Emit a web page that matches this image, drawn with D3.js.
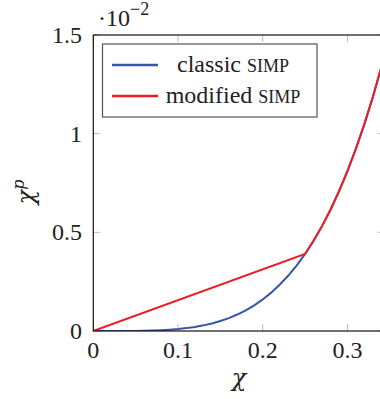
<!DOCTYPE html>
<html><head><meta charset="utf-8">
<script src="https://cdn.jsdelivr.net/npm/d3@7"></script>
<style>body{margin:0;background:#fff}svg{display:block}text{font-family:"Liberation Serif","DejaVu Serif",serif;fill:#222}</style>
</head><body><svg id="c" width="380" height="399"></svg>
<script>
// data (values in units of 10^-2)
const chi = [0,0.01,0.02,0.03,0.04,0.05,0.06,0.07,0.08,0.09,0.10,0.11,0.12,0.13,0.14,0.15,0.16,0.17,0.18,0.19,0.20,0.21,0.22,0.23,0.24,0.25,0.26,0.27,0.28,0.29,0.30,0.31,0.32,0.33,0.34,0.35];
const classicSIMP = [0,0.000001,0.000016,0.000081,0.000256,0.000625,0.0013,0.0024,0.0041,0.0066,0.01,0.0146,0.0207,0.0286,0.0384,0.0506,0.0655,0.0835,0.105,0.1303,0.16,0.1945,0.2343,0.2798,0.3318,0.3906,0.457,0.5314,0.6147,0.7073,0.81,0.9235,1.0486,1.1859,1.3363,1.5006];
const modChi = [0,0.25,0.26,0.27,0.28,0.29,0.30,0.31,0.32,0.33,0.34,0.35];
const modifiedSIMP = [0,0.3906,0.457,0.5314,0.6147,0.7073,0.81,0.9235,1.0486,1.1859,1.3363,1.5006];
const xTicks = [0,0.1,0.2,0.3];
const yTicks = [0,0.5,1,1.5];
const seriesNames = ["classic", "modified"];

const svg = d3.select("#c");
const L = 93.3, R = 384.7, T = 35, B = 331;
const x = d3.scaleLinear().domain([0,0.344]).range([L,R]);
const y = d3.scaleLinear().domain([0,1.5]).range([B,T]);

// ticks inside (gray)
const tg = svg.append("g").attr("stroke","#bbb").attr("stroke-width",1);
xTicks.forEach(t=>{
  tg.append("line").attr("x1",x(t)).attr("x2",x(t)).attr("y1",B).attr("y2",B-7);
  tg.append("line").attr("x1",x(t)).attr("x2",x(t)).attr("y1",T).attr("y2",T+7);
});
yTicks.forEach(t=>{
  tg.append("line").attr("x1",L).attr("x2",L+7).attr("y1",y(t)).attr("y2",y(t));
  tg.append("line").attr("x1",R).attr("x2",R-7).attr("y1",y(t)).attr("y2",y(t));
});

svg.append("clipPath").attr("id","clip").append("rect").attr("x",L).attr("y",T).attr("width",R-L).attr("height",B-T);
const line = d3.line().x(d=>x(d[0])).y(d=>y(d[1]));
const gL = svg.append("g").attr("clip-path","url(#clip)");
gL.append("path").datum(chi.map((c,i)=>[c,classicSIMP[i]])).attr("d",line)
  .attr("fill","none").attr("stroke","#3a55a8").attr("stroke-width",2);
gL.append("path").datum(modChi.map((c,i)=>[c,modifiedSIMP[i]])).attr("d",line)
  .attr("fill","none").attr("stroke","#ec1c24").attr("stroke-width",2);

// frame
svg.append("rect").attr("x",L).attr("y",T).attr("width",R-L).attr("height",B-T)
  .attr("fill","none").attr("stroke","#111").attr("stroke-width",1.2);

// tick labels
const fmt = d=> d===0? "0" : String(d);
xTicks.forEach(t=>svg.append("text").attr("x",x(t)).attr("y",358).attr("text-anchor","middle")
  .attr("font-size",24).text(fmt(t)));
yTicks.forEach(t=>svg.append("text").attr("x",82).attr("y",y(t)+8).attr("text-anchor","end")
  .attr("font-size",24).text(fmt(t)));

// multiplier
const m = svg.append("text").attr("x",98).attr("y",26).attr("font-size",24);
m.append("tspan").text("·10");
m.append("tspan").attr("dy",-11).attr("font-size",18).text("−2");

// axis labels
svg.append("text").attr("x",239).attr("y",386).attr("text-anchor","middle").attr("font-size",24)
  .attr("font-style","italic").style("font-family","'DejaVu Serif',serif").text("χ");
const yl = svg.append("text").attr("transform","translate(34,192) rotate(-90)").attr("text-anchor","middle")
  .attr("font-size",24).attr("font-style","italic").style("font-family","'DejaVu Serif',serif");
yl.append("tspan").text("χ");
yl.append("tspan").attr("dy",-10).attr("font-size",16).text("p");

// legend
const lg = svg.append("g");
lg.append("rect").attr("x",102.5).attr("y",44).attr("width",214.5).attr("height",73)
  .attr("fill","#fff").attr("stroke","#555").attr("stroke-width",1.2);
const items = [{c:"#3a55a8",yy:65},{c:"#ec1c24",yy:96}];
items.forEach((it,i)=>{
  lg.append("line").attr("x1",112).attr("x2",158).attr("y1",it.yy).attr("y2",it.yy)
    .attr("stroke",it.c).attr("stroke-width",2.5);
  const tx = lg.append("text").attr("x",233).attr("y",it.yy+7).attr("text-anchor","middle").attr("font-size",24);
  tx.append("tspan").text(seriesNames[i]+" ");
  tx.append("tspan").attr("font-size",18).text("SIMP");
});
</script></body></html>
